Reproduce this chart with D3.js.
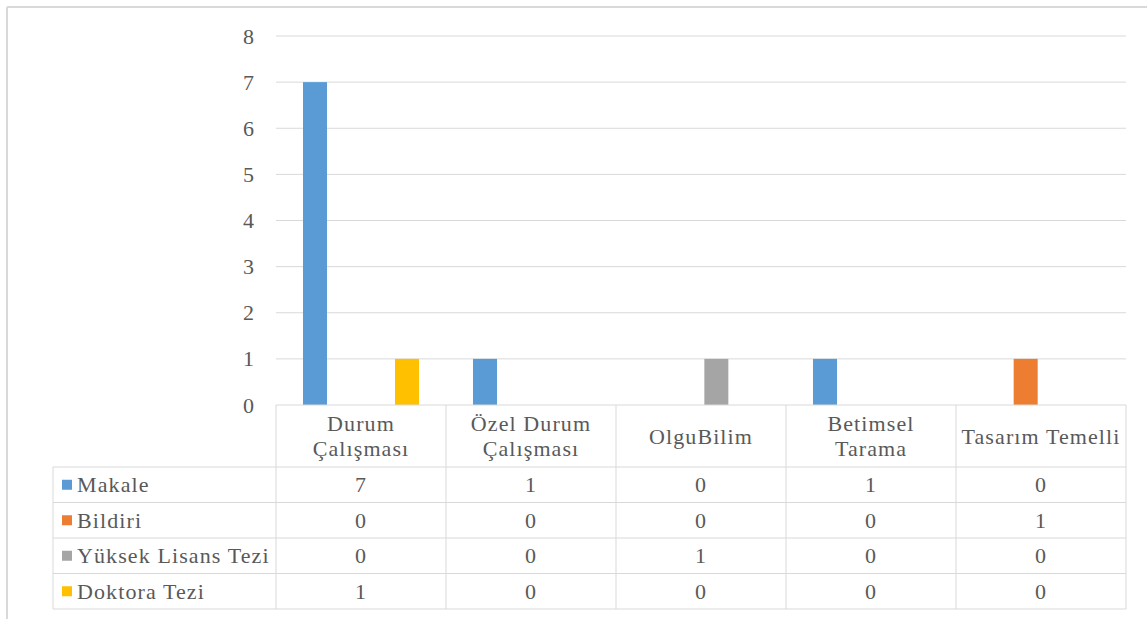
<!DOCTYPE html>
<html><head><meta charset="utf-8">
<script src="https://cdn.jsdelivr.net/npm/d3@7"></script>
<style>
html,body{margin:0;padding:0;background:#fff;}
svg text{fill:#595959;}
</style></head>
<body><svg id="c" width="1147" height="619"></svg>
<script>
const categories = [["Durum","Çalışması"],["Özel Durum","Çalışması"],["OlguBilim"],["Betimsel","Tarama"],["Tasarım Temelli"]];
const seriesNames = ["Makale","Bildiri","Yüksek Lisans Tezi","Doktora Tezi"];
const seriesColors = ["#5b9bd5","#ed7d31","#a5a5a5","#ffc000"];
const makale = [7,1,0,1,0];
const bildiri = [0,0,0,0,1];
const yuksekLisans = [0,0,1,0,0];
const doktora = [1,0,0,0,0];
const yTicks = [0,1,2,3,4,5,6,7,8];

const series = [makale,bildiri,yuksekLisans,doktora];
const svg = d3.select("#c");
const fs = 22, ls = "1.1px";
const ff = "'Liberation Serif', 'DejaVu Serif', 'Noto Serif', Tinos, 'FreeSerif', 'Times New Roman', Times, serif";

svg.append("line").attr("x1",7).attr("x2",1147).attr("y1",7).attr("y2",7).attr("stroke","#d9d9d9").attr("stroke-width",2);
svg.append("line").attr("x1",7).attr("x2",7).attr("y1",7).attr("y2",619).attr("stroke","#d9d9d9").attr("stroke-width",2);

const x0 = d3.scaleBand().domain(d3.range(categories.length)).range([276,1126]).padding(0);
const x1 = d3.scaleBand().domain(d3.range(series.length)).range([0,x0.bandwidth()]).paddingInner(0.2174).paddingOuter(0.88);
const y = d3.scaleLinear().domain([0,8]).range([405,36]);

svg.append("g").selectAll("line").data(yTicks.filter(d=>d>0)).join("line")
  .attr("x1",276).attr("x2",1126).attr("y1",d=>y(d)).attr("y2",d=>y(d))
  .attr("stroke","#d9d9d9").attr("stroke-width",1);

function txt(sel){ return sel.attr("font-size",fs).attr("font-family",ff).style("letter-spacing",ls).attr("fill","#595959"); }

const yAxis = d3.axisLeft(y).tickValues(yTicks).tickSize(0).tickPadding(0).tickFormat(d3.format("d"));
const ya = svg.append("g").attr("transform","translate(255,0)").call(yAxis);
ya.attr("font-family",ff).attr("font-size",fs);
ya.select(".domain").remove();
txt(ya.selectAll("text")).attr("dy","0.32em");

series.forEach((vals,si)=>{
  svg.append("g").selectAll("rect").data(vals.map((v,ci)=>({v,ci}))).join("rect")
    .filter(d=>d.v>0)
    .attr("x",d=>x0(d.ci)+x1(si)).attr("width",x1.bandwidth())
    .attr("y",d=>y(d.v)).attr("height",d=>y(0)-y(d.v))
    .attr("fill",seriesColors[si]);
});

const headerTop = 405, headerBottom = 467, rowH = 35.5, tableLeft = 53, tableRight = 1126;
const rowY = i => headerBottom + i*rowH;
const g = svg.append("g");
const lc = "#d9d9d9";
g.append("line").attr("x1",276).attr("x2",tableRight).attr("y1",headerTop).attr("y2",headerTop).attr("stroke",lc);
for(let i=0;i<=series.length;i++){
  g.append("line").attr("x1",tableLeft).attr("x2",tableRight).attr("y1",rowY(i)).attr("y2",rowY(i)).attr("stroke",lc);
}
g.append("line").attr("x1",tableLeft).attr("x2",tableLeft).attr("y1",headerBottom).attr("y2",rowY(series.length)).attr("stroke",lc);
for(let c=0;c<=categories.length;c++){
  const xx = c<categories.length ? x0(c) : tableRight;
  g.append("line").attr("x1",xx).attr("x2",xx).attr("y1",headerTop).attr("y2",rowY(series.length)).attr("stroke",lc);
}
categories.forEach((lines,ci)=>{
  const cx = x0(ci)+x0.bandwidth()/2;
  const cy = (headerTop+headerBottom)/2;
  const lh = 25;
  lines.forEach((t,li)=>{
    txt(g.append("text").attr("x",cx).attr("y",cy + (li-(lines.length-1)/2)*lh).attr("dy","0.35em")
      .attr("text-anchor","middle")).text(t);
  });
});
series.forEach((vals,si)=>{
  const cy = rowY(si)+rowH/2;
  g.append("rect").attr("x",62).attr("y",cy-5).attr("width",10).attr("height",10).attr("fill",seriesColors[si]);
  txt(g.append("text").attr("x",77).attr("y",cy).attr("dy","0.35em")).text(seriesNames[si]);
  vals.forEach((v,ci)=>{
    txt(g.append("text").attr("x",x0(ci)+x0.bandwidth()/2).attr("y",cy).attr("dy","0.35em")
      .attr("text-anchor","middle")).text(v);
  });
});
</script></body></html>
